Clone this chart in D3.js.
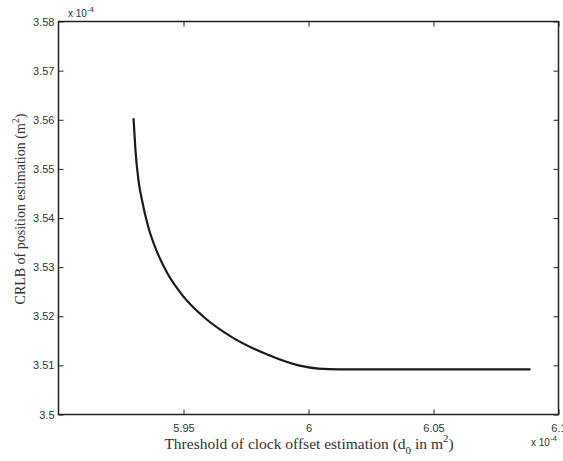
<!DOCTYPE html>
<html><head><meta charset="utf-8">
<script src="https://cdn.jsdelivr.net/npm/d3@7"></script>
<style>body{margin:0;background:#fff}svg{display:block}</style>
</head><body>
<svg id="c" width="563" height="461"></svg>
<script>
// threshold d0 (x 1e-4 m^2)
const thresholds = [5.930, 5.9308, 5.932, 5.9334, 5.936, 5.939, 5.9435, 5.950, 5.958, 5.9695, 5.984, 5.996, 6.004, 6.012, 6.030, 6.060, 6.0888];
// CRLB (x 1e-4 m^2)
const crlb = [3.5603, 3.5537, 3.5476, 3.5436, 3.5380, 3.5336, 3.5288, 3.5240, 3.5199, 3.5157, 3.5121, 3.5100, 3.50935, 3.5092, 3.5092, 3.5092, 3.5092];
const xTicks = [5.95, 6, 6.05, 6.1];
const yTicks = [3.5, 3.51, 3.52, 3.53, 3.54, 3.55, 3.56, 3.57, 3.58];

const svg = d3.select("#c");
const L = 58.5, R = 558.5, T = 21.5, B = 414.5;
const x = d3.scaleLinear().domain([5.9, 6.1]).range([L, R]);
const y = d3.scaleLinear().domain([3.5, 3.58]).range([B, T]);

const tickFont = "'Liberation Sans', Arial, sans-serif";
const labFont = "'Liberation Serif', 'Times New Roman', serif";

// ticks inward
const gx = svg.append("g").attr("transform", `translate(0,${B})`)
  .call(d3.axisBottom(x).tickValues(xTicks).tickSize(-5).tickPadding(10).tickFormat(d3.format("")));
const gxt = svg.append("g").attr("transform", `translate(0,${T})`)
  .call(d3.axisTop(x).tickValues(xTicks).tickSize(-5).tickFormat(""));
const gy = svg.append("g").attr("transform", `translate(${L},0)`)
  .call(d3.axisLeft(y).tickValues(yTicks).tickSize(-5).tickPadding(4).tickFormat(d3.format("")));
const gyr = svg.append("g").attr("transform", `translate(${R},0)`)
  .call(d3.axisRight(y).tickValues(yTicks).tickSize(-5).tickFormat(""));
[gx, gxt, gy, gyr].forEach(g => {
  g.selectAll(".domain").remove();
  g.selectAll("line").attr("stroke", "#222");
  g.selectAll("text").attr("font-family", tickFont).attr("font-size", 11).attr("fill", "#333");
});
svg.append("rect").attr("x", L).attr("y", T).attr("width", R - L).attr("height", B - T)
  .attr("fill", "none").attr("stroke", "#222").attr("stroke-width", 1.5);

// curve
const pts = thresholds.map((t, i) => [t, crlb[i]]);
svg.append("path").datum(pts)
  .attr("fill", "none").attr("stroke", "#1a1a1a").attr("stroke-width", 2.2)
  .attr("d", d3.line().x(d => x(d[0])).y(d => y(d[1])).curve(d3.curveMonotoneX));

// exponent labels
const e1 = svg.append("text").attr("x", 68).attr("y", 17).attr("font-family", tickFont).attr("font-size", 10).attr("fill", "#333");
e1.append("tspan").text("x 10");
e1.append("tspan").attr("dy", -5).attr("font-size", 8).text("-4");
const e2 = svg.append("text").attr("x", 531).attr("y", 446).attr("font-family", tickFont).attr("font-size", 10).attr("fill", "#333");
e2.append("tspan").text("x 10");
e2.append("tspan").attr("dy", -5).attr("font-size", 8).text("-4");

// axis labels
const xl = svg.append("text").attr("x", 309).attr("y", 449).attr("text-anchor", "middle")
  .attr("font-family", labFont).attr("font-size", 15.5).attr("fill", "#333");
xl.append("tspan").text("Threshold of clock offset estimation (d");
xl.append("tspan").attr("dy", 5).attr("font-size", 11).text("0");
xl.append("tspan").attr("dy", -5).text(" in m");
xl.append("tspan").attr("dy", -7).attr("font-size", 11).text("2");
xl.append("tspan").attr("dy", 7).text(")");

const yl = svg.append("text").attr("transform", "translate(25,209) rotate(-90)").attr("text-anchor", "middle")
  .attr("font-family", labFont).attr("font-size", 14).attr("fill", "#333");
yl.append("tspan").text("CRLB of position estimation (m");
yl.append("tspan").attr("dy", -6).attr("font-size", 10).text("2");
yl.append("tspan").attr("dy", 6).text(")");
</script>
</body></html>
